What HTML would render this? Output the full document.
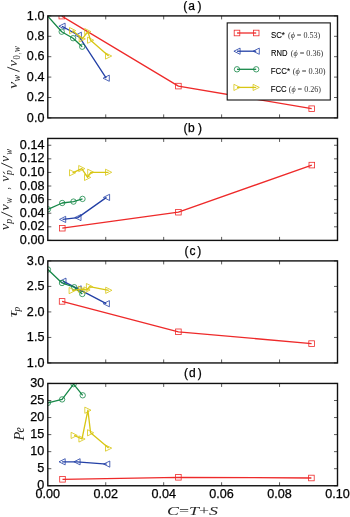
<!DOCTYPE html>
<html><head><meta charset="utf-8"><style>
html,body{margin:0;padding:0;background:#fff;width:350px;height:517px;overflow:hidden}
svg{display:block;will-change:transform}
text{-webkit-font-smoothing:antialiased}
.tl{font-family:"Liberation Sans",sans-serif;font-size:12px;fill:#000;stroke:#000;stroke-width:0.25px}
.ml{font-family:"Liberation Serif",serif;font-style:italic;fill:#262626}
.lg{font-family:"Liberation Sans",sans-serif;font-size:8.6px;fill:#000;stroke:#000;stroke-width:0.1px}
.lm{font-family:"Liberation Serif",serif;font-size:9px;fill:#333}
</style></head><body>
<svg width="350" height="517" viewBox="0 0 350 517"><defs><clipPath id="clipa"><rect x="47.8" y="15.9" width="289.7" height="102.0"/></clipPath><clipPath id="clipb"><rect x="47.8" y="138.45" width="289.7" height="101.95000000000002"/></clipPath><clipPath id="clipc"><rect x="47.8" y="260.9" width="289.7" height="102.05000000000001"/></clipPath><clipPath id="clipd"><rect x="47.8" y="383.45" width="289.7" height="102.30000000000001"/></clipPath></defs>
<g clip-path="url(#clipa)">
<path d="M61.80,16.10 L178.40,86.10 L311.70,108.70" fill="none" stroke="#ee2a2a" stroke-width="1.3" stroke-linejoin="round" stroke-linecap="butt"/>
<rect x="59.00" y="13.30" width="5.60" height="5.60" fill="none" stroke="#ee2a2a" stroke-width="0.8"/>
<rect x="175.60" y="83.30" width="5.60" height="5.60" fill="none" stroke="#ee2a2a" stroke-width="0.8"/>
<rect x="308.90" y="105.90" width="5.60" height="5.60" fill="none" stroke="#ee2a2a" stroke-width="0.8"/>
<path d="M62.00,26.20 L78.30,35.30 L106.20,78.20" fill="none" stroke="#2340a6" stroke-width="1.3" stroke-linejoin="round" stroke-linecap="butt"/>
<path d="M58.90,26.20 L65.10,23.10 L65.10,29.30 Z" fill="none" stroke="#2340a6" stroke-width="0.8" stroke-linejoin="miter"/>
<path d="M75.20,35.30 L81.40,32.20 L81.40,38.40 Z" fill="none" stroke="#2340a6" stroke-width="0.8" stroke-linejoin="miter"/>
<path d="M103.10,78.20 L109.30,75.10 L109.30,81.30 Z" fill="none" stroke="#2340a6" stroke-width="0.8" stroke-linejoin="miter"/>
<path d="M47.70,16.10 L61.70,31.70 L73.10,38.20 L82.20,46.70" fill="none" stroke="#178848" stroke-width="1.3" stroke-linejoin="round" stroke-linecap="butt"/>
<circle cx="61.70" cy="31.70" r="2.70" fill="none" stroke="#178848" stroke-width="0.8"/>
<circle cx="73.10" cy="38.20" r="2.70" fill="none" stroke="#178848" stroke-width="0.8"/>
<circle cx="82.20" cy="46.70" r="2.70" fill="none" stroke="#178848" stroke-width="0.8"/>
<path d="M72.60,30.60 L82.30,38.90 L87.80,31.60 L90.60,40.20 L108.60,56.00" fill="none" stroke="#d8c614" stroke-width="1.3" stroke-linejoin="round" stroke-linecap="butt"/>
<path d="M75.70,30.60 L69.50,27.50 L69.50,33.70 Z" fill="none" stroke="#d8c614" stroke-width="0.8" stroke-linejoin="miter"/>
<path d="M85.40,38.90 L79.20,35.80 L79.20,42.00 Z" fill="none" stroke="#d8c614" stroke-width="0.8" stroke-linejoin="miter"/>
<path d="M90.90,31.60 L84.70,28.50 L84.70,34.70 Z" fill="none" stroke="#d8c614" stroke-width="0.8" stroke-linejoin="miter"/>
<path d="M93.70,40.20 L87.50,37.10 L87.50,43.30 Z" fill="none" stroke="#d8c614" stroke-width="0.8" stroke-linejoin="miter"/>
<path d="M111.70,56.00 L105.50,52.90 L105.50,59.10 Z" fill="none" stroke="#d8c614" stroke-width="0.8" stroke-linejoin="miter"/>
</g>
<text x="44.4" y="121.50" text-anchor="end" class="tl" textLength="17.51" lengthAdjust="spacingAndGlyphs">0.0</text>
<text x="44.4" y="101.10" text-anchor="end" class="tl" textLength="17.51" lengthAdjust="spacingAndGlyphs">0.2</text>
<text x="44.4" y="80.70" text-anchor="end" class="tl" textLength="17.51" lengthAdjust="spacingAndGlyphs">0.4</text>
<text x="44.4" y="60.30" text-anchor="end" class="tl" textLength="17.51" lengthAdjust="spacingAndGlyphs">0.6</text>
<text x="44.4" y="39.90" text-anchor="end" class="tl" textLength="17.51" lengthAdjust="spacingAndGlyphs">0.8</text>
<text x="44.4" y="19.50" text-anchor="end" class="tl" textLength="17.51" lengthAdjust="spacingAndGlyphs">1.0</text>
<path d="M47.8,117.90 h3.5 M337.5,117.90 h-3.5 M47.8,97.50 h3.5 M337.5,97.50 h-3.5 M47.8,77.10 h3.5 M337.5,77.10 h-3.5 M47.8,56.70 h3.5 M337.5,56.70 h-3.5 M47.8,36.30 h3.5 M337.5,36.30 h-3.5 M47.8,15.90 h3.5 M337.5,15.90 h-3.5 M105.74,117.9 v-3.5 M105.74,15.9 v3.5 M163.68,117.9 v-3.5 M163.68,15.9 v3.5 M221.62,117.9 v-3.5 M221.62,15.9 v3.5 M279.56,117.9 v-3.5 M279.56,15.9 v3.5" stroke="#4a4a4a" stroke-width="0.9" fill="none"/>
<rect x="47.8" y="15.9" width="289.7" height="102.0" fill="none" stroke="#111" stroke-width="1.4"/>
<text y="9.80" class="tl" font-size="13"><tspan x="183.3">(</tspan><tspan x="188.15">a</tspan><tspan x="197.5">)</tspan></text>
<g clip-path="url(#clipb)">
<path d="M62.30,228.20 L178.40,212.20 L311.80,165.10" fill="none" stroke="#ee2a2a" stroke-width="1.3" stroke-linejoin="round" stroke-linecap="butt"/>
<rect x="59.50" y="225.40" width="5.60" height="5.60" fill="none" stroke="#ee2a2a" stroke-width="0.8"/>
<rect x="175.60" y="209.40" width="5.60" height="5.60" fill="none" stroke="#ee2a2a" stroke-width="0.8"/>
<rect x="309.00" y="162.30" width="5.60" height="5.60" fill="none" stroke="#ee2a2a" stroke-width="0.8"/>
<path d="M62.60,219.40 L77.90,217.60 L106.50,197.40" fill="none" stroke="#2340a6" stroke-width="1.3" stroke-linejoin="round" stroke-linecap="butt"/>
<path d="M59.50,219.40 L65.70,216.30 L65.70,222.50 Z" fill="none" stroke="#2340a6" stroke-width="0.8" stroke-linejoin="miter"/>
<path d="M74.80,217.60 L81.00,214.50 L81.00,220.70 Z" fill="none" stroke="#2340a6" stroke-width="0.8" stroke-linejoin="miter"/>
<path d="M103.40,197.40 L109.60,194.30 L109.60,200.50 Z" fill="none" stroke="#2340a6" stroke-width="0.8" stroke-linejoin="miter"/>
<path d="M47.90,209.30 L62.20,203.00 L73.50,201.60 L82.50,198.90" fill="none" stroke="#178848" stroke-width="1.3" stroke-linejoin="round" stroke-linecap="butt"/>
<circle cx="47.90" cy="209.30" r="2.70" fill="none" stroke="#178848" stroke-width="0.8"/>
<circle cx="62.20" cy="203.00" r="2.70" fill="none" stroke="#178848" stroke-width="0.8"/>
<circle cx="73.50" cy="201.60" r="2.70" fill="none" stroke="#178848" stroke-width="0.8"/>
<circle cx="82.50" cy="198.90" r="2.70" fill="none" stroke="#178848" stroke-width="0.8"/>
<path d="M72.60,172.80 L81.80,168.60 L87.60,177.40 L90.80,172.30 L108.60,172.30" fill="none" stroke="#d8c614" stroke-width="1.3" stroke-linejoin="round" stroke-linecap="butt"/>
<path d="M75.70,172.80 L69.50,169.70 L69.50,175.90 Z" fill="none" stroke="#d8c614" stroke-width="0.8" stroke-linejoin="miter"/>
<path d="M84.90,168.60 L78.70,165.50 L78.70,171.70 Z" fill="none" stroke="#d8c614" stroke-width="0.8" stroke-linejoin="miter"/>
<path d="M90.70,177.40 L84.50,174.30 L84.50,180.50 Z" fill="none" stroke="#d8c614" stroke-width="0.8" stroke-linejoin="miter"/>
<path d="M93.90,172.30 L87.70,169.20 L87.70,175.40 Z" fill="none" stroke="#d8c614" stroke-width="0.8" stroke-linejoin="miter"/>
<path d="M111.70,172.30 L105.50,169.20 L105.50,175.40 Z" fill="none" stroke="#d8c614" stroke-width="0.8" stroke-linejoin="miter"/>
</g>
<text x="44.4" y="244.00" text-anchor="end" class="tl" textLength="24.52" lengthAdjust="spacingAndGlyphs">0.00</text>
<text x="44.4" y="230.41" text-anchor="end" class="tl" textLength="24.52" lengthAdjust="spacingAndGlyphs">0.02</text>
<text x="44.4" y="216.81" text-anchor="end" class="tl" textLength="24.52" lengthAdjust="spacingAndGlyphs">0.04</text>
<text x="44.4" y="203.22" text-anchor="end" class="tl" textLength="24.52" lengthAdjust="spacingAndGlyphs">0.06</text>
<text x="44.4" y="189.63" text-anchor="end" class="tl" textLength="24.52" lengthAdjust="spacingAndGlyphs">0.08</text>
<text x="44.4" y="176.03" text-anchor="end" class="tl" textLength="24.52" lengthAdjust="spacingAndGlyphs">0.10</text>
<text x="44.4" y="162.44" text-anchor="end" class="tl" textLength="24.52" lengthAdjust="spacingAndGlyphs">0.12</text>
<text x="44.4" y="148.85" text-anchor="end" class="tl" textLength="24.52" lengthAdjust="spacingAndGlyphs">0.14</text>
<path d="M47.8,240.40 h3.5 M337.5,240.40 h-3.5 M47.8,226.81 h3.5 M337.5,226.81 h-3.5 M47.8,213.21 h3.5 M337.5,213.21 h-3.5 M47.8,199.62 h3.5 M337.5,199.62 h-3.5 M47.8,186.03 h3.5 M337.5,186.03 h-3.5 M47.8,172.43 h3.5 M337.5,172.43 h-3.5 M47.8,158.84 h3.5 M337.5,158.84 h-3.5 M47.8,145.25 h3.5 M337.5,145.25 h-3.5 M105.74,240.4 v-3.5 M105.74,138.45 v3.5 M163.68,240.4 v-3.5 M163.68,138.45 v3.5 M221.62,240.4 v-3.5 M221.62,138.45 v3.5 M279.56,240.4 v-3.5 M279.56,138.45 v3.5" stroke="#4a4a4a" stroke-width="0.9" fill="none"/>
<rect x="47.8" y="138.45" width="289.7" height="101.95000000000002" fill="none" stroke="#111" stroke-width="1.4"/>
<text y="132.35" class="tl" font-size="13"><tspan x="183.5">(</tspan><tspan x="187.97">b</tspan><tspan x="198.0">)</tspan></text>
<g clip-path="url(#clipc)">
<path d="M62.10,301.40 L178.40,331.80 L311.60,343.60" fill="none" stroke="#ee2a2a" stroke-width="1.3" stroke-linejoin="round" stroke-linecap="butt"/>
<rect x="59.30" y="298.60" width="5.60" height="5.60" fill="none" stroke="#ee2a2a" stroke-width="0.8"/>
<rect x="175.60" y="329.00" width="5.60" height="5.60" fill="none" stroke="#ee2a2a" stroke-width="0.8"/>
<rect x="308.80" y="340.80" width="5.60" height="5.60" fill="none" stroke="#ee2a2a" stroke-width="0.8"/>
<path d="M62.90,281.20 L78.10,288.90 L106.30,303.70" fill="none" stroke="#2340a6" stroke-width="1.3" stroke-linejoin="round" stroke-linecap="butt"/>
<path d="M59.80,281.20 L66.00,278.10 L66.00,284.30 Z" fill="none" stroke="#2340a6" stroke-width="0.8" stroke-linejoin="miter"/>
<path d="M75.00,288.90 L81.20,285.80 L81.20,292.00 Z" fill="none" stroke="#2340a6" stroke-width="0.8" stroke-linejoin="miter"/>
<path d="M103.20,303.70 L109.40,300.60 L109.40,306.80 Z" fill="none" stroke="#2340a6" stroke-width="0.8" stroke-linejoin="miter"/>
<path d="M47.90,269.50 L62.00,283.00 L74.20,287.20 L82.30,294.00" fill="none" stroke="#178848" stroke-width="1.3" stroke-linejoin="round" stroke-linecap="butt"/>
<circle cx="47.90" cy="269.50" r="2.70" fill="none" stroke="#178848" stroke-width="0.8"/>
<circle cx="62.00" cy="283.00" r="2.70" fill="none" stroke="#178848" stroke-width="0.8"/>
<circle cx="74.20" cy="287.20" r="2.70" fill="none" stroke="#178848" stroke-width="0.8"/>
<circle cx="82.30" cy="294.00" r="2.70" fill="none" stroke="#178848" stroke-width="0.8"/>
<path d="M72.20,290.60 L81.40,289.20 L87.00,290.00 L89.50,286.60 L108.80,290.30" fill="none" stroke="#d8c614" stroke-width="1.3" stroke-linejoin="round" stroke-linecap="butt"/>
<path d="M75.30,290.60 L69.10,287.50 L69.10,293.70 Z" fill="none" stroke="#d8c614" stroke-width="0.8" stroke-linejoin="miter"/>
<path d="M84.50,289.20 L78.30,286.10 L78.30,292.30 Z" fill="none" stroke="#d8c614" stroke-width="0.8" stroke-linejoin="miter"/>
<path d="M90.10,290.00 L83.90,286.90 L83.90,293.10 Z" fill="none" stroke="#d8c614" stroke-width="0.8" stroke-linejoin="miter"/>
<path d="M92.60,286.60 L86.40,283.50 L86.40,289.70 Z" fill="none" stroke="#d8c614" stroke-width="0.8" stroke-linejoin="miter"/>
<path d="M111.90,290.30 L105.70,287.20 L105.70,293.40 Z" fill="none" stroke="#d8c614" stroke-width="0.8" stroke-linejoin="miter"/>
</g>
<text x="44.4" y="366.55" text-anchor="end" class="tl" textLength="17.51" lengthAdjust="spacingAndGlyphs">1.0</text>
<text x="44.4" y="341.04" text-anchor="end" class="tl" textLength="17.51" lengthAdjust="spacingAndGlyphs">1.5</text>
<text x="44.4" y="315.52" text-anchor="end" class="tl" textLength="17.51" lengthAdjust="spacingAndGlyphs">2.0</text>
<text x="44.4" y="290.01" text-anchor="end" class="tl" textLength="17.51" lengthAdjust="spacingAndGlyphs">2.5</text>
<text x="44.4" y="264.50" text-anchor="end" class="tl" textLength="17.51" lengthAdjust="spacingAndGlyphs">3.0</text>
<path d="M47.8,362.95 h3.5 M337.5,362.95 h-3.5 M47.8,337.44 h3.5 M337.5,337.44 h-3.5 M47.8,311.92 h3.5 M337.5,311.92 h-3.5 M47.8,286.41 h3.5 M337.5,286.41 h-3.5 M47.8,260.90 h3.5 M337.5,260.90 h-3.5 M105.74,362.95 v-3.5 M105.74,260.9 v3.5 M163.68,362.95 v-3.5 M163.68,260.9 v3.5 M221.62,362.95 v-3.5 M221.62,260.9 v3.5 M279.56,362.95 v-3.5 M279.56,260.9 v3.5" stroke="#4a4a4a" stroke-width="0.9" fill="none"/>
<rect x="47.8" y="260.9" width="289.7" height="102.05000000000001" fill="none" stroke="#111" stroke-width="1.4"/>
<text y="254.80" class="tl" font-size="13"><tspan x="184.4">(</tspan><tspan x="189.45">c</tspan><tspan x="197.3">)</tspan></text>
<g clip-path="url(#clipd)">
<path d="M62.50,479.30 L178.40,477.30 L311.40,478.00" fill="none" stroke="#ee2a2a" stroke-width="1.3" stroke-linejoin="round" stroke-linecap="butt"/>
<rect x="59.70" y="476.50" width="5.60" height="5.60" fill="none" stroke="#ee2a2a" stroke-width="0.8"/>
<rect x="175.60" y="474.50" width="5.60" height="5.60" fill="none" stroke="#ee2a2a" stroke-width="0.8"/>
<rect x="308.60" y="475.20" width="5.60" height="5.60" fill="none" stroke="#ee2a2a" stroke-width="0.8"/>
<path d="M62.10,461.80 L77.00,461.80 L106.70,464.10" fill="none" stroke="#2340a6" stroke-width="1.3" stroke-linejoin="round" stroke-linecap="butt"/>
<path d="M59.00,461.80 L65.20,458.70 L65.20,464.90 Z" fill="none" stroke="#2340a6" stroke-width="0.8" stroke-linejoin="miter"/>
<path d="M73.90,461.80 L80.10,458.70 L80.10,464.90 Z" fill="none" stroke="#2340a6" stroke-width="0.8" stroke-linejoin="miter"/>
<path d="M103.60,464.10 L109.80,461.00 L109.80,467.20 Z" fill="none" stroke="#2340a6" stroke-width="0.8" stroke-linejoin="miter"/>
<path d="M47.90,402.90 L62.10,399.40 L73.60,384.10 L82.70,395.30" fill="none" stroke="#178848" stroke-width="1.3" stroke-linejoin="round" stroke-linecap="butt"/>
<circle cx="47.90" cy="402.90" r="2.70" fill="none" stroke="#178848" stroke-width="0.8"/>
<circle cx="62.10" cy="399.40" r="2.70" fill="none" stroke="#178848" stroke-width="0.8"/>
<circle cx="73.60" cy="384.10" r="2.70" fill="none" stroke="#178848" stroke-width="0.8"/>
<circle cx="82.70" cy="395.30" r="2.70" fill="none" stroke="#178848" stroke-width="0.8"/>
<path d="M74.20,435.40 L82.00,439.00 L87.90,410.20 L90.60,432.80 L108.60,448.10" fill="none" stroke="#d8c614" stroke-width="1.3" stroke-linejoin="round" stroke-linecap="butt"/>
<path d="M77.30,435.40 L71.10,432.30 L71.10,438.50 Z" fill="none" stroke="#d8c614" stroke-width="0.8" stroke-linejoin="miter"/>
<path d="M85.10,439.00 L78.90,435.90 L78.90,442.10 Z" fill="none" stroke="#d8c614" stroke-width="0.8" stroke-linejoin="miter"/>
<path d="M91.00,410.20 L84.80,407.10 L84.80,413.30 Z" fill="none" stroke="#d8c614" stroke-width="0.8" stroke-linejoin="miter"/>
<path d="M93.70,432.80 L87.50,429.70 L87.50,435.90 Z" fill="none" stroke="#d8c614" stroke-width="0.8" stroke-linejoin="miter"/>
<path d="M111.70,448.10 L105.50,445.00 L105.50,451.20 Z" fill="none" stroke="#d8c614" stroke-width="0.8" stroke-linejoin="miter"/>
</g>
<text x="44.4" y="489.35" text-anchor="end" class="tl" textLength="7.01" lengthAdjust="spacingAndGlyphs">0</text>
<text x="44.4" y="472.30" text-anchor="end" class="tl" textLength="7.01" lengthAdjust="spacingAndGlyphs">5</text>
<text x="44.4" y="455.25" text-anchor="end" class="tl" textLength="14.01" lengthAdjust="spacingAndGlyphs">10</text>
<text x="44.4" y="438.20" text-anchor="end" class="tl" textLength="14.01" lengthAdjust="spacingAndGlyphs">15</text>
<text x="44.4" y="421.15" text-anchor="end" class="tl" textLength="14.01" lengthAdjust="spacingAndGlyphs">20</text>
<text x="44.4" y="404.10" text-anchor="end" class="tl" textLength="14.01" lengthAdjust="spacingAndGlyphs">25</text>
<text x="44.4" y="387.05" text-anchor="end" class="tl" textLength="14.01" lengthAdjust="spacingAndGlyphs">30</text>
<path d="M47.8,485.75 h3.5 M337.5,485.75 h-3.5 M47.8,468.70 h3.5 M337.5,468.70 h-3.5 M47.8,451.65 h3.5 M337.5,451.65 h-3.5 M47.8,434.60 h3.5 M337.5,434.60 h-3.5 M47.8,417.55 h3.5 M337.5,417.55 h-3.5 M47.8,400.50 h3.5 M337.5,400.50 h-3.5 M47.8,383.45 h3.5 M337.5,383.45 h-3.5 M105.74,485.75 v-3.5 M105.74,383.45 v3.5 M163.68,485.75 v-3.5 M163.68,383.45 v3.5 M221.62,485.75 v-3.5 M221.62,383.45 v3.5 M279.56,485.75 v-3.5 M279.56,383.45 v3.5" stroke="#4a4a4a" stroke-width="0.9" fill="none"/>
<rect x="47.8" y="383.45" width="289.7" height="102.30000000000001" fill="none" stroke="#111" stroke-width="1.4"/>
<text y="377.35" class="tl" font-size="13"><tspan x="183.9">(</tspan><tspan x="189.05">d</tspan><tspan x="197.8">)</tspan></text>
<text x="47.80" y="498.4" text-anchor="middle" class="tl" textLength="24.52" lengthAdjust="spacingAndGlyphs">0.00</text>
<text x="105.74" y="498.4" text-anchor="middle" class="tl" textLength="24.52" lengthAdjust="spacingAndGlyphs">0.02</text>
<text x="163.68" y="498.4" text-anchor="middle" class="tl" textLength="24.52" lengthAdjust="spacingAndGlyphs">0.04</text>
<text x="221.62" y="498.4" text-anchor="middle" class="tl" textLength="24.52" lengthAdjust="spacingAndGlyphs">0.06</text>
<text x="279.56" y="498.4" text-anchor="middle" class="tl" textLength="24.52" lengthAdjust="spacingAndGlyphs">0.08</text>
<text x="337.50" y="498.4" text-anchor="middle" class="tl" textLength="24.52" lengthAdjust="spacingAndGlyphs">0.10</text>
<text x="192.5" y="515.4" text-anchor="middle" class="ml" font-size="13" textLength="51" lengthAdjust="spacingAndGlyphs"><tspan>C</tspan><tspan font-style="normal">=</tspan><tspan>T</tspan><tspan font-style="normal">+</tspan><tspan>S</tspan></text>
<g transform="translate(16.9,88.8) rotate(-90)"><text x="0" y="0" font-size="13.2" textLength="7.00" lengthAdjust="spacingAndGlyphs" class="ml" style="font-style:italic">v</text><text x="7.2" y="2.8" font-size="9.6" textLength="6.70" lengthAdjust="spacingAndGlyphs" class="ml" style="font-style:italic">w</text><text x="22.4" y="0" font-size="13.2" textLength="6.40" lengthAdjust="spacingAndGlyphs" class="ml" style="font-style:italic">v</text><text x="29.4" y="2.8" font-size="9.6" textLength="4.30" lengthAdjust="spacingAndGlyphs" class="ml" style="font-style:normal">0</text><text x="34.5" y="2.8" font-size="9.6" textLength="1.30" lengthAdjust="spacingAndGlyphs" class="ml" style="font-style:normal">,</text><text x="36.6" y="2.8" font-size="9.6" textLength="6.20" lengthAdjust="spacingAndGlyphs" class="ml" style="font-style:italic">w</text></g>
<g transform="translate(9.3,230.3) rotate(-90)"><text x="0" y="0" font-size="13.2" textLength="6.60" lengthAdjust="spacingAndGlyphs" class="ml" style="font-style:italic">v</text><text x="6.6" y="2.9" font-size="9.6" textLength="4.80" lengthAdjust="spacingAndGlyphs" class="ml" style="font-style:italic">p</text><text x="19.5" y="0" font-size="13.2" textLength="6.60" lengthAdjust="spacingAndGlyphs" class="ml" style="font-style:italic">v</text><text x="26.8" y="2.8" font-size="9.6" textLength="5.90" lengthAdjust="spacingAndGlyphs" class="ml" style="font-style:italic">w</text><text x="40.8" y="0" font-size="13.2" textLength="2.40" lengthAdjust="spacingAndGlyphs" class="ml" style="font-style:normal">,</text><text x="48.5" y="0" font-size="13.2" textLength="6.30" lengthAdjust="spacingAndGlyphs" class="ml" style="font-style:italic">v</text><text x="55.3" y="2.9" font-size="9.6" textLength="4.90" lengthAdjust="spacingAndGlyphs" class="ml" style="font-style:italic">p</text><text x="68.4" y="0" font-size="13.2" textLength="6.30" lengthAdjust="spacingAndGlyphs" class="ml" style="font-style:italic">v</text><text x="75.6" y="2.8" font-size="9.6" textLength="5.80" lengthAdjust="spacingAndGlyphs" class="ml" style="font-style:italic">w</text></g>
<path d="M3.2,172.0 L4.8,173.4" stroke="#222" stroke-width="1.0" stroke-linecap="round"/>
<path d="M19.5,71.6 L7.3,67.2 M12.3,217.0 L1.3,212.0 M12.4,168.1 L1.2,163.0" stroke="#222" stroke-width="0.95" stroke-linecap="butt"/>
<g transform="translate(16.9,317.2) rotate(-90)"><text x="0" y="0" font-size="13.2" textLength="6.50" lengthAdjust="spacingAndGlyphs" class="ml" style="font-style:italic">τ</text><text x="5.6" y="2.9" font-size="9.6" textLength="4.70" lengthAdjust="spacingAndGlyphs" class="ml" style="font-style:italic">p</text></g>
<g transform="translate(24.1,440.6) rotate(-90)"><text x="0" y="0" font-size="14.5" textLength="8.80" lengthAdjust="spacingAndGlyphs" class="ml" style="font-style:italic">P</text><text x="8.2" y="0" font-size="14.5" textLength="5.20" lengthAdjust="spacingAndGlyphs" class="ml" style="font-style:italic">e</text></g>
<rect x="227.2" y="22.9" width="103.10" height="77.10" fill="#fff" stroke="#111" stroke-width="1.1"/>
<path d="M237.00,33.00 L256.20,33.00" fill="none" stroke="#ee2a2a" stroke-width="1.3" stroke-linejoin="round" stroke-linecap="butt"/>
<rect x="234.20" y="30.20" width="5.60" height="5.60" fill="none" stroke="#ee2a2a" stroke-width="0.8"/>
<rect x="253.40" y="30.20" width="5.60" height="5.60" fill="none" stroke="#ee2a2a" stroke-width="0.8"/>
<text x="270.90" y="37.60" class="lg" textLength="14.00" lengthAdjust="spacingAndGlyphs">SC*</text>
<text x="288.00" y="37.60" class="lm" textLength="32.20" lengthAdjust="spacingAndGlyphs">(<tspan font-style="italic">ϕ</tspan> = 0.53)</text>
<path d="M237.00,51.20 L256.20,51.20" fill="none" stroke="#2340a6" stroke-width="1.3" stroke-linejoin="round" stroke-linecap="butt"/>
<path d="M233.90,51.20 L240.10,48.10 L240.10,54.30 Z" fill="none" stroke="#2340a6" stroke-width="0.8" stroke-linejoin="miter"/>
<path d="M253.10,51.20 L259.30,48.10 L259.30,54.30 Z" fill="none" stroke="#2340a6" stroke-width="0.8" stroke-linejoin="miter"/>
<text x="271.00" y="55.80" class="lg" textLength="16.50" lengthAdjust="spacingAndGlyphs">RND</text>
<text x="290.80" y="55.80" class="lm" textLength="32.40" lengthAdjust="spacingAndGlyphs">(<tspan font-style="italic">ϕ</tspan> = 0.36)</text>
<path d="M237.00,69.30 L256.20,69.30" fill="none" stroke="#178848" stroke-width="1.3" stroke-linejoin="round" stroke-linecap="butt"/>
<circle cx="237.00" cy="69.30" r="2.70" fill="none" stroke="#178848" stroke-width="0.8"/>
<circle cx="256.20" cy="69.30" r="2.70" fill="none" stroke="#178848" stroke-width="0.8"/>
<text x="270.70" y="73.90" class="lg" textLength="19.30" lengthAdjust="spacingAndGlyphs">FCC*</text>
<text x="292.70" y="73.90" class="lm" textLength="32.90" lengthAdjust="spacingAndGlyphs">(<tspan font-style="italic">ϕ</tspan> = 0.30)</text>
<path d="M237.00,87.40 L256.20,87.40" fill="none" stroke="#d8c614" stroke-width="1.3" stroke-linejoin="round" stroke-linecap="butt"/>
<path d="M240.10,87.40 L233.90,84.30 L233.90,90.50 Z" fill="none" stroke="#d8c614" stroke-width="0.8" stroke-linejoin="miter"/>
<path d="M259.30,87.40 L253.10,84.30 L253.10,90.50 Z" fill="none" stroke="#d8c614" stroke-width="0.8" stroke-linejoin="miter"/>
<text x="270.70" y="92.00" class="lg" textLength="16.00" lengthAdjust="spacingAndGlyphs">FCC</text>
<text x="288.70" y="92.00" class="lm" textLength="32.30" lengthAdjust="spacingAndGlyphs">(<tspan font-style="italic">ϕ</tspan> = 0.26)</text></svg>
</body></html>
